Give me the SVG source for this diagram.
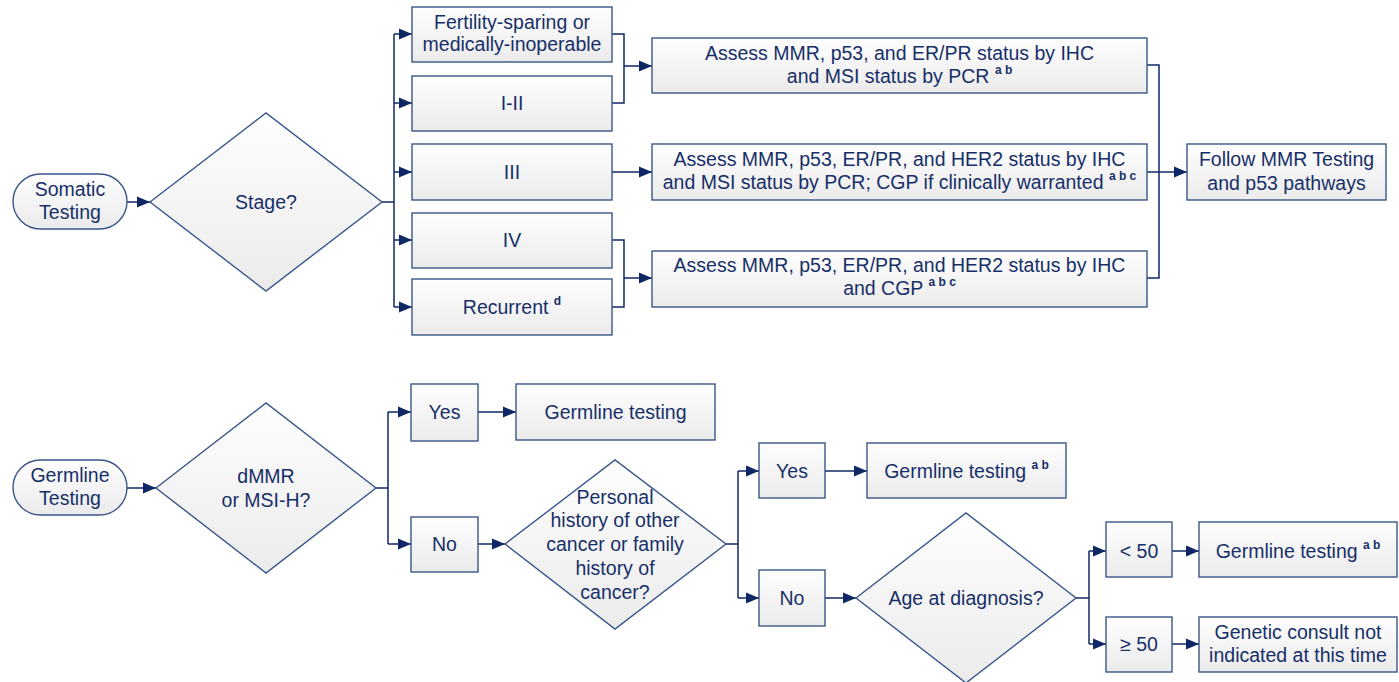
<svg xmlns="http://www.w3.org/2000/svg" width="1399" height="682" viewBox="0 0 1399 682">
<defs>
<linearGradient id="g" x1="0" y1="0" x2="0" y2="1">
<stop offset="0" stop-color="#fefefe"/>
<stop offset="1" stop-color="#ebebeb"/>
</linearGradient>
<marker id="ah" markerUnits="userSpaceOnUse" markerWidth="14" markerHeight="12" refX="13" refY="6" orient="auto">
<path d="M0,0.5 L13,6 L0,11.5 z" fill="#0f2865"/>
</marker>
<style>
.b{fill:url(#g);stroke:#3a5689;stroke-width:1.4}
.t{font-family:"Liberation Sans",Arial,sans-serif;font-size:19.5px;fill:#172f68;text-anchor:middle}
.s{font-size:12px;font-weight:bold}
.c{fill:none;stroke:#0f2865;stroke-width:1.5}
.a{fill:none;stroke:#0f2865;stroke-width:1.5;marker-end:url(#ah)}
</style>
</defs>
<rect width="1399" height="682" fill="#ffffff"/>

<g id="connectors">
<path class="a" d="M127,202 H150"/>
<path class="c" d="M382,202 H394 M394,34 V307"/>
<path class="a" d="M394,34 H412"/>
<path class="a" d="M394,103 H412"/>
<path class="a" d="M394,172 H412"/>
<path class="a" d="M394,240 H412"/>
<path class="a" d="M394,307 H412"/>
<path class="c" d="M612,34 H624 V103 H612"/>
<path class="a" d="M624,66 H652"/>
<path class="a" d="M612,172 H652"/>
<path class="c" d="M612,240 H624 V307 H612"/>
<path class="a" d="M624,278 H652"/>
<path class="c" d="M1147,65 H1159 V278 H1147"/>
<path class="a" d="M1147,172 H1187"/>
<path class="a" d="M127,488 H156"/>
<path class="c" d="M376,488 H388 M388,412 V544"/>
<path class="a" d="M388,412 H411"/>
<path class="a" d="M388,544 H411"/>
<path class="a" d="M478,412 H516"/>
<path class="a" d="M478,544 H505"/>
<path class="c" d="M726,544 H738 M738,471 V598"/>
<path class="a" d="M738,471 H759"/>
<path class="a" d="M738,598 H759"/>
<path class="a" d="M825,471 H867"/>
<path class="a" d="M825,598 H856"/>
<path class="c" d="M1076,598 H1089 M1089,551 V644"/>
<path class="a" d="M1089,551 H1106"/>
<path class="a" d="M1089,644 H1106"/>
<path class="a" d="M1172,551 H1199"/>
<path class="a" d="M1172,644 H1199"/>
</g>

<g id="somatic">
<rect class="b" x="13" y="174" width="114" height="55" rx="27.5"/>
<text class="t" x="70" y="196">Somatic</text>
<text class="t" x="70" y="219">Testing</text>
</g>
<g id="stage">
<path class="b" d="M150,202 L266,113 L382,202 L266,291 z"/>
<text class="t" x="266" y="209">Stage?</text>
</g>
<g id="fertility">
<rect class="b" x="412" y="7" width="200" height="55"/>
<text class="t" x="512" y="29">Fertility-sparing or</text>
<text class="t" x="512" y="51">medically-inoperable</text>
</g>
<g id="stage12">
<rect class="b" x="412" y="76" width="200" height="55"/>
<text class="t" x="512" y="110">I-II</text>
</g>
<g id="stage3">
<rect class="b" x="412" y="144" width="200" height="56"/>
<text class="t" x="512" y="179">III</text>
</g>
<g id="stage4">
<rect class="b" x="412" y="213" width="200" height="55"/>
<text class="t" x="512" y="247">IV</text>
</g>
<g id="recurrent">
<rect class="b" x="412" y="279" width="200" height="56"/>
<text class="t" x="512" y="314">Recurrent <tspan class="s" dy="-9">d</tspan></text>
</g>
<g id="assess1">
<rect class="b" x="652" y="38" width="495" height="55"/>
<text class="t" x="899.5" y="60">Assess MMR, p53, and ER/PR status by IHC</text>
<text class="t" x="899.5" y="83">and MSI status by PCR <tspan class="s" dy="-9">a b</tspan></text>
</g>
<g id="assess2">
<rect class="b" x="652" y="144" width="495" height="56"/>
<text class="t" x="899.5" y="166">Assess MMR, p53, ER/PR, and HER2 status by IHC</text>
<text class="t" x="899.5" y="189">and MSI status by PCR; CGP if clinically warranted <tspan class="s" dy="-9">a b c</tspan></text>
</g>
<g id="assess3">
<rect class="b" x="652" y="251" width="495" height="56"/>
<text class="t" x="899.5" y="272">Assess MMR, p53, ER/PR, and HER2 status by IHC</text>
<text class="t" x="899.5" y="295">and CGP <tspan class="s" dy="-9">a b c</tspan></text>
</g>
<g id="follow">
<rect class="b" x="1187" y="144" width="199" height="56"/>
<text class="t" x="1286.5" y="166">Follow MMR Testing</text>
<text class="t" x="1286.5" y="190">and p53 pathways</text>
</g>

<g id="germline">
<rect class="b" x="13" y="460" width="114" height="55" rx="27.5"/>
<text class="t" x="70" y="482">Germline</text>
<text class="t" x="70" y="505">Testing</text>
</g>
<g id="dmmr">
<path class="b" d="M156,488 L266,403 L376,488 L266,573 z"/>
<text class="t" x="266" y="483">dMMR</text>
<text class="t" x="266" y="507">or MSI-H?</text>
</g>
<g id="yes1">
<rect class="b" x="411" y="384" width="67" height="57"/>
<text class="t" x="444.5" y="419">Yes</text>
</g>
<g id="no1">
<rect class="b" x="411" y="517" width="67" height="55"/>
<text class="t" x="444.5" y="551">No</text>
</g>
<g id="germtest1">
<rect class="b" x="516" y="384" width="199" height="56"/>
<text class="t" x="615.5" y="419">Germline testing</text>
</g>
<g id="history">
<path class="b" d="M505,544 L615,460 L726,544 L615,629 z"/>
<text class="t" x="615" y="504">Personal</text>
<text class="t" x="615" y="527">history of other</text>
<text class="t" x="615" y="551">cancer or family</text>
<text class="t" x="615" y="575">history of</text>
<text class="t" x="615" y="599">cancer?</text>
</g>
<g id="yes2">
<rect class="b" x="759" y="443" width="66" height="55"/>
<text class="t" x="792" y="478">Yes</text>
</g>
<g id="no2">
<rect class="b" x="759" y="570" width="66" height="56"/>
<text class="t" x="792" y="605">No</text>
</g>
<g id="germtest2">
<rect class="b" x="867" y="443" width="199" height="55"/>
<text class="t" x="966.5" y="478">Germline testing <tspan class="s" dy="-9">a b</tspan></text>
</g>
<g id="age">
<path class="b" d="M856,598 L966,513 L1076,598 L966,683 z"/>
<text class="t" x="966" y="605">Age at diagnosis?</text>
</g>
<g id="lt50">
<rect class="b" x="1106" y="522" width="66" height="55"/>
<text class="t" x="1139" y="558">&lt; 50</text>
</g>
<g id="ge50">
<rect class="b" x="1106" y="617" width="66" height="55"/>
<text class="t" x="1139" y="651">≥ 50</text>
</g>
<g id="germtest3">
<rect class="b" x="1199" y="522" width="198" height="55"/>
<text class="t" x="1298" y="558">Germline testing <tspan class="s" dy="-9">a b</tspan></text>
</g>
<g id="consult">
<rect class="b" x="1199" y="617" width="198" height="55"/>
<text class="t" x="1298" y="639">Genetic consult not</text>
<text class="t" x="1298" y="662">indicated at this time</text>
</g>
</svg>
